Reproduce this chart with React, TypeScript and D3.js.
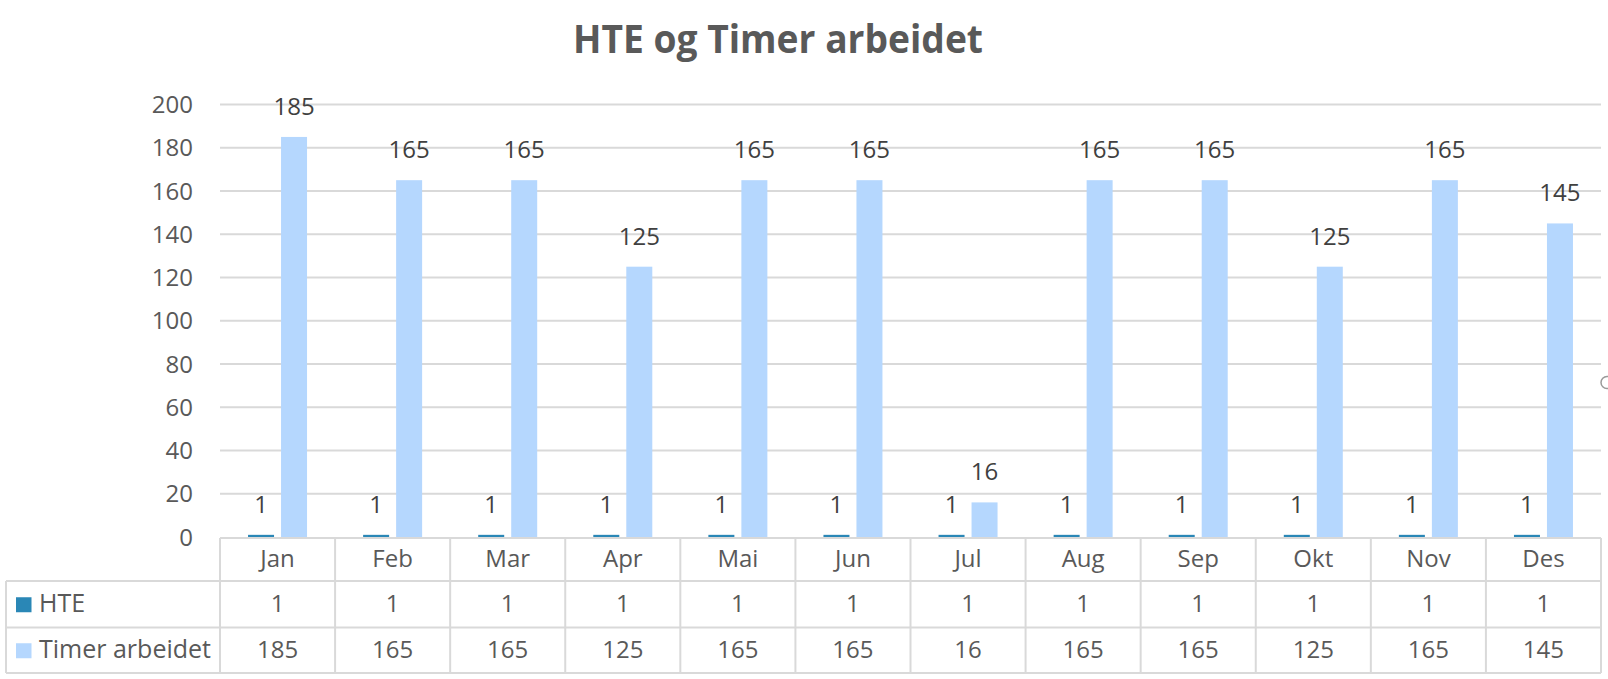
import React from "react";
import * as d3 from "d3";

const months = ["Jan", "Feb", "Mar", "Apr", "Mai", "Jun", "Jul", "Aug", "Sep", "Okt", "Nov", "Des"];
const hte = [1, 1, 1, 1, 1, 1, 1, 1, 1, 1, 1, 1];
const timer = [185, 165, 165, 125, 165, 165, 16, 165, 165, 125, 165, 145];
const yTicks = [0, 20, 40, 60, 80, 100, 120, 140, 160, 180, 200];
const seriesNames = ["HTE", "Timer arbeidet"];
const seriesColors = ["#2A87B6", "#B5D7FE"];

const W = 1608;
const H = 679;
const plotLeft = 220;
const plotRight = 1601;
const tableLeft = 6;
const rowTops = [538, 581, 627.5, 673];
const FONT = "'Open Sans', 'Noto Sans', sans-serif";

export default function App() {
  const x = d3.scaleBand<string>().domain(months).range([plotLeft, plotRight]).padding(0);
  const y = d3.scaleLinear().domain([0, 200]).range([537, 104.5]);
  const bw = 26;
  const gap = 3.5;
  const grid = "#D9D9D9";
  const series = [hte, timer];

  return (
    <svg
      width={W}
      height={H}
      style={{ position: "absolute", left: 0, top: 0, background: "#fff" }}
      fontFamily={FONT}
    >
      <rect x={0} y={0} width={W} height={H} fill="#fff" />
      <text
        x={778}
        y={53}
        textAnchor="middle"
        fontSize={40}
        fontWeight={700}
        fill="#595959"
        textLength={410}
        lengthAdjust="spacingAndGlyphs"
      >
        HTE og Timer arbeidet
      </text>

      {yTicks.map((t) => (
        <g key={t}>
          {t > 0 && (
            <line x1={plotLeft} x2={plotRight} y1={y(t)} y2={y(t)} stroke={grid} strokeWidth={2} />
          )}
          <text x={193} y={y(t)} dy="0.36em" textAnchor="end" fontSize={24} fill="#595959">
            {t}
          </text>
        </g>
      ))}

      {months.map((m, i) => {
        const xc = x(m)! + x.bandwidth() / 2;
        const hx = xc - gap - bw;
        const tx = xc + gap;
        return (
          <g key={m}>
            <rect x={hx} y={y(hte[i])} width={bw} height={y(0) - y(hte[i])} fill={seriesColors[0]} />
            <rect x={tx} y={y(timer[i])} width={bw} height={y(0) - y(timer[i])} fill={seriesColors[1]} />
            <text x={hx + bw / 2} y={y(hte[i]) - 22} textAnchor="middle" fontSize={24} fill="#404040">
              {hte[i]}
            </text>
            <text x={tx + bw / 2} y={y(timer[i]) - 22} textAnchor="middle" fontSize={24} fill="#404040">
              {timer[i]}
            </text>
          </g>
        );
      })}

      {/* data table */}
      <line x1={plotLeft} x2={plotRight} y1={rowTops[0]} y2={rowTops[0]} stroke={grid} strokeWidth={2} />
      {rowTops.slice(1).map((r, k) => (
        <line key={k} x1={tableLeft} x2={plotRight} y1={r} y2={r} stroke={grid} strokeWidth={2} />
      ))}
      <line x1={tableLeft} x2={tableLeft} y1={rowTops[1]} y2={rowTops[3]} stroke={grid} strokeWidth={2} />
      {months.map((m) => (
        <line key={"v" + m} x1={x(m)!} x2={x(m)!} y1={rowTops[0]} y2={rowTops[3]} stroke={grid} strokeWidth={2} />
      ))}
      <line x1={plotRight} x2={plotRight} y1={rowTops[0]} y2={rowTops[3]} stroke={grid} strokeWidth={2} />

      {months.map((m, i) => {
        const xc = x(m)! + x.bandwidth() / 2;
        return (
          <g key={"t" + m}>
            <text x={xc} y={(rowTops[0] + rowTops[1]) / 2 + 7.5} textAnchor="middle" fontSize={24} fill="#595959">
              {m}
            </text>
            {series.map((s, k) => (
              <text
                key={k}
                x={xc}
                y={(rowTops[k + 1] + rowTops[k + 2]) / 2 + 7.5}
                textAnchor="middle"
                fontSize={24}
                fill="#595959"
              >
                {s[i]}
              </text>
            ))}
          </g>
        );
      })}

      {seriesNames.map((n, k) => {
        const cy = (rowTops[k + 1] + rowTops[k + 2]) / 2;
        return (
          <g key={n}>
            <rect x={16} y={cy - 7} width={15.5} height={15} fill={seriesColors[k]} />
            <text x={39} y={cy + 7.5} fontSize={25} fill="#595959">
              {n}
            </text>
          </g>
        );
      })}

      <circle cx={1607} cy={382.5} r={6} fill="none" stroke="#9a9a9a" strokeWidth={1.5} />
    </svg>
  );
}
